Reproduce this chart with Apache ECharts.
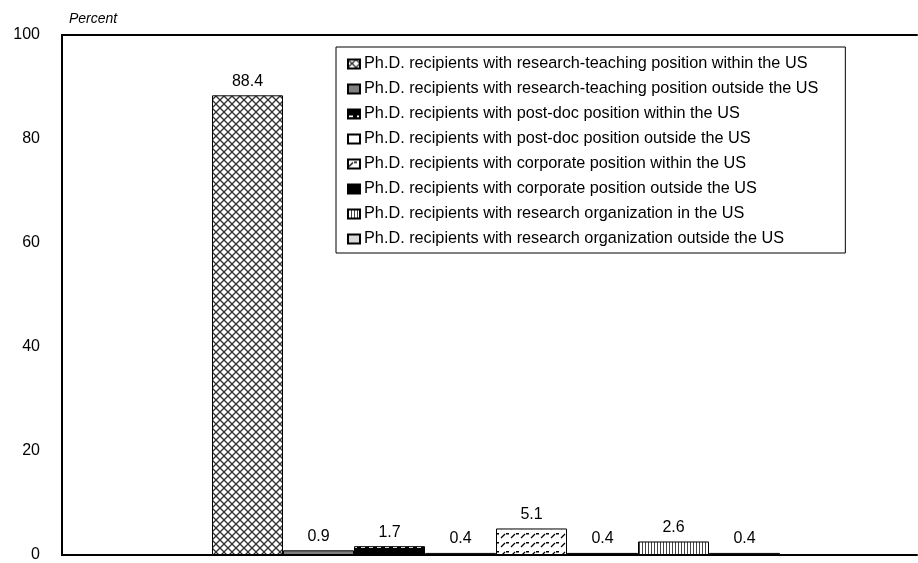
<!DOCTYPE html>
<html>
<head>
<meta charset="utf-8">
<script src="https://cdn.jsdelivr.net/npm/echarts@6/dist/echarts.min.js"></script>
<style>
html,body{margin:0;padding:0;background:#fff;}
#chart{width:918px;height:563px;}
</style>
</head>
<body>
<div id="chart"></div>
<script>
var categories = [''];
var seriesNames = [
  'Ph.D. recipients with research-teaching position within the US',
  'Ph.D. recipients with research-teaching position outside the US',
  'Ph.D. recipients with post-doc position within the US',
  'Ph.D. recipients with post-doc position outside the US',
  'Ph.D. recipients with corporate position within the US',
  'Ph.D. recipients with corporate position outside the US',
  'Ph.D. recipients with research organization in the US',
  'Ph.D. recipients with research organization outside the US'
];
var seriesValues = [88.4, 0.9, 1.7, 0.4, 5.1, 0.4, 2.6, 0.4];
var yTicks = [0, 20, 40, 60, 80, 100];

function tile(w, h, draw) {
  var c = document.createElement('canvas');
  c.width = w; c.height = h;
  var ctx = c.getContext('2d');
  draw(ctx, w, h);
  return { image: c, repeat: 'repeat' };
}
var fills = [
  tile(8, 8, function (ctx, w, h) {
    ctx.fillStyle = '#fff'; ctx.fillRect(0, 0, w, h);
    ctx.strokeStyle = '#333'; ctx.lineWidth = 1.3;
    ctx.beginPath(); ctx.moveTo(0, 0); ctx.lineTo(w, h); ctx.stroke();
    ctx.beginPath(); ctx.moveTo(0, h); ctx.lineTo(w, 0); ctx.stroke();
  }),
  '#808080',
  tile(8, 9, function (ctx, w, h) {
    ctx.fillStyle = '#000'; ctx.fillRect(0, 0, w, h);
    ctx.fillStyle = '#fff'; ctx.fillRect(1, 6, 4, 2);
  }),
  '#ffffff',
  tile(10, 9, function (ctx, w, h) {
    ctx.fillStyle = '#fff'; ctx.fillRect(0, 0, w, h);
    ctx.strokeStyle = '#000'; ctx.lineWidth = 1.2;
    ctx.beginPath(); ctx.moveTo(1, 7); ctx.lineTo(5, 3); ctx.stroke();
    ctx.fillStyle = '#000'; ctx.fillRect(6, 2, 3, 1.5);
  }),
  '#000000',
  tile(3, 3, function (ctx, w, h) {
    ctx.fillStyle = '#fff'; ctx.fillRect(0, 0, w, h);
    ctx.fillStyle = '#444'; ctx.fillRect(0, 0, 1, h);
  }),
  '#d9d9d9'
];

var FONT = 'Liberation Sans, Arial, sans-serif';
var chart = echarts.init(document.getElementById('chart'), null, { renderer: 'canvas' });

var series = seriesNames.map(function (name, i) {
  return {
    name: name,
    type: 'bar',
    xAxisIndex: 1,
    yAxisIndex: 1,
    data: [seriesValues[i]],
    barWidth: 71,
    barGap: '0%',
    itemStyle: { color: fills[i], borderColor: '#000', borderWidth: 1 },
    label: {
      show: true, position: 'top', distance: 6,
      color: '#000', fontSize: 16, fontFamily: FONT,
      formatter: function (p) { return p.value.toFixed(1); }
    },
    emphasis: { disabled: true },
    animation: false
  };
});

chart.setOption({
  animation: false,
  backgroundColor: '#fff',
  textStyle: { fontFamily: FONT },
  title: {
    text: 'Percent', left: 64, top: 7,
    textStyle: { fontSize: 14, fontStyle: 'italic', fontWeight: 'normal', color: '#000', fontFamily: FONT }
  },
  grid: [
    { left: 62, right: 1, top: 35, bottom: 8, show: false },
    { left: 75, right: 1, top: 35, bottom: 8, show: false }
  ],
  legend: {
    orient: 'vertical', left: 336, top: 47,
    padding: [9, 27, 6, 11],
    itemGap: 9, itemWidth: 12, itemHeight: 9,
    borderColor: '#000', borderWidth: 1,
    icon: 'rect',
    textStyle: { fontSize: 16.25, lineHeight: 16, color: '#000', fontFamily: FONT, padding: [0, 0, 0, -1] },
    data: seriesNames,
    selectedMode: false
  },
  xAxis: [
    { type: 'category', gridIndex: 0, data: categories,
      axisLine: { lineStyle: { color: '#000', width: 2 } },
      axisTick: { show: false }, axisLabel: { show: false } },
    { type: 'category', gridIndex: 1, data: categories, show: false },
    { type: 'category', gridIndex: 0, position: 'top', data: categories,
      axisLine: { lineStyle: { color: '#000', width: 2 } },
      axisTick: { show: false }, axisLabel: { show: false } }
  ],
  yAxis: [
    { type: 'value', gridIndex: 0, min: yTicks[0], max: yTicks[yTicks.length - 1], interval: 20,
      axisLine: { show: true, lineStyle: { color: '#000', width: 2 } },
      axisTick: { show: false },
      splitLine: { show: false },
      axisLabel: { margin: 22, fontSize: 16, color: '#000', fontFamily: FONT, padding: [4, 0, 0, 0] } },
    { type: 'value', gridIndex: 1, min: yTicks[0], max: yTicks[yTicks.length - 1], interval: 20, show: false,
      splitLine: { show: false } }
  ],
  series: series
});
</script>
</body>
</html>
